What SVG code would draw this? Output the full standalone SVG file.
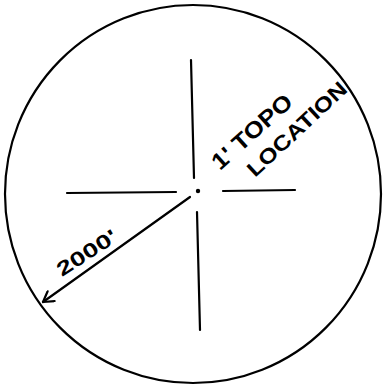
<svg xmlns="http://www.w3.org/2000/svg" width="385" height="386" viewBox="0 0 385 386">
<style>
.ln{stroke:#000;stroke-width:2.2;fill:none;stroke-linecap:round}
.t{font-family:"Liberation Sans",Arial,sans-serif;font-weight:bold;fill:#000}
</style>
<defs>
<marker id="ah" markerWidth="14" markerHeight="14" refX="12" refY="7" orient="auto" markerUnits="userSpaceOnUse">
<path d="M2,1 L12,7 L2,13" fill="none" stroke="#000" stroke-width="2.2" stroke-linecap="round" stroke-linejoin="round"/>
</marker>
</defs>
<rect width="385" height="386" fill="#fff"/>
<g id="circle"><ellipse cx="193" cy="194" rx="188" ry="189" class="ln" stroke-width="2.6"/></g>
<g id="crosshair">
<line x1="191" y1="60" x2="194" y2="178" class="ln"/>
<line x1="197" y1="212" x2="200" y2="330" class="ln"/>
<line x1="67" y1="193" x2="176" y2="192" class="ln"/>
<line x1="223" y1="191" x2="295" y2="190" class="ln"/>
<circle cx="198" cy="191" r="2.2" fill="#000"/>
</g>
<g id="connectors">
<line x1="190" y1="197" x2="43" y2="302" class="ln" marker-end="url(#ah)"/>
</g>
<g id="labels">
<text class="t" font-size="20" transform="translate(62,277) rotate(-33)" textLength="68" lengthAdjust="spacingAndGlyphs">2000'</text>
<text class="t" font-size="23" transform="translate(220,171) rotate(-42)" textLength="100" lengthAdjust="spacingAndGlyphs">1' TOPO</text>
<text class="t" font-size="21" transform="translate(255,178) rotate(-43)" textLength="128" lengthAdjust="spacingAndGlyphs">LOCATION</text>
</g>
</svg>
